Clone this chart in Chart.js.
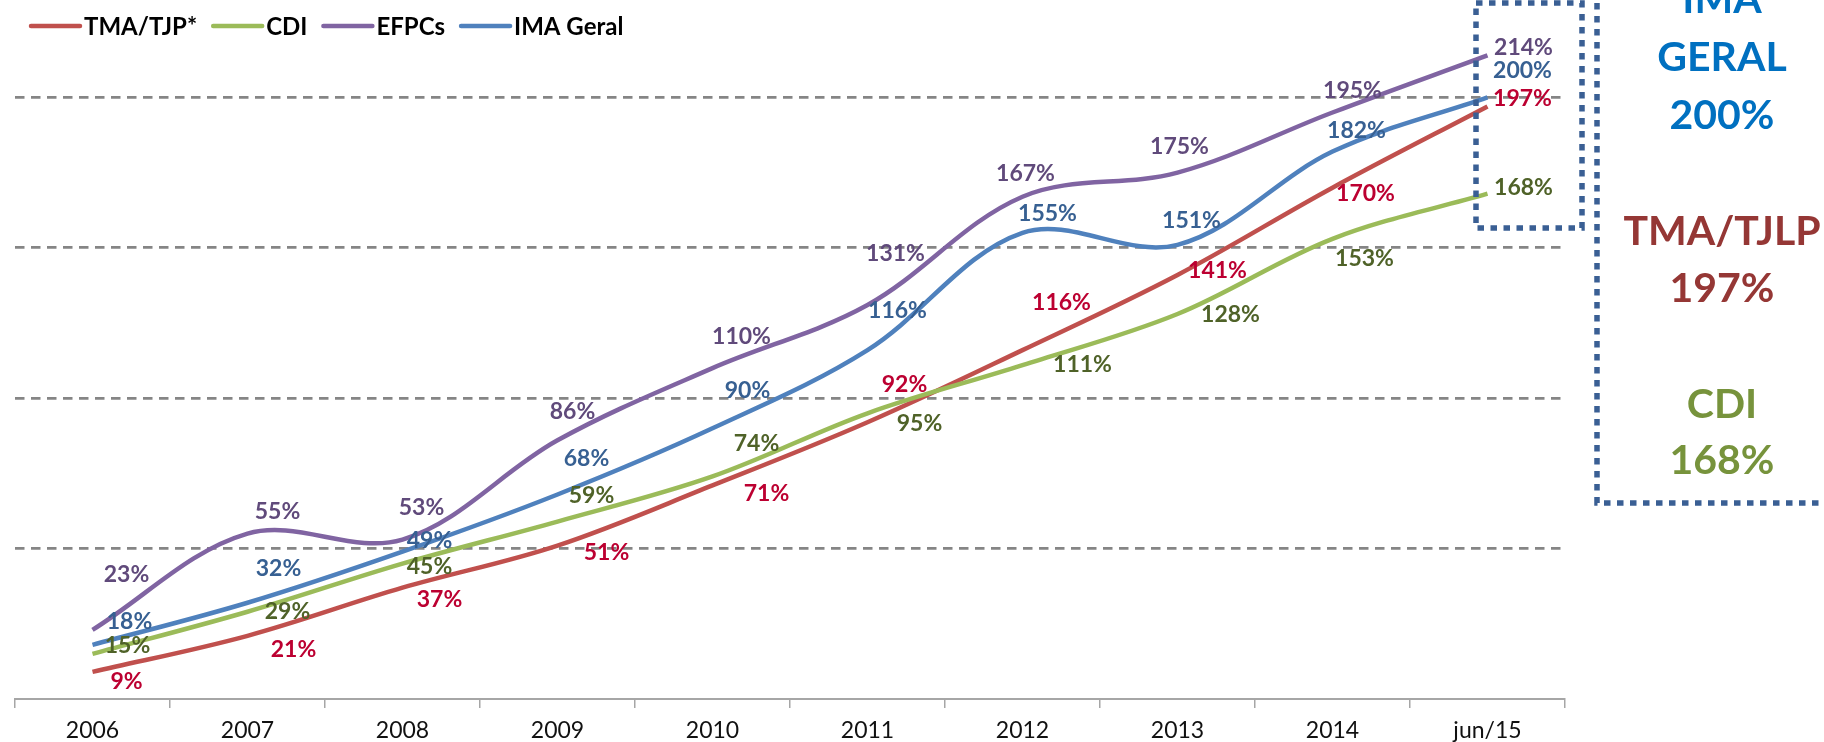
<!DOCTYPE html>
<html>
<head>
<meta charset="utf-8">
<script src="https://cdn.jsdelivr.net/npm/chart.js@4.4.1/dist/chart.umd.min.js"></script>
<style>
  html, body { margin: 0; padding: 0; background: #fff; }
  #wrap { width: 1824px; height: 742px; position: relative; }
</style>
</head>
<body>
<div id="wrap"><canvas id="retornos"></canvas></div>
<script>
'use strict';

/* ---- data ---- */
const categories = ['2006', '2007', '2008', '2009', '2010', '2011', '2012', '2013', '2014', 'jun/15'];
const tmaValues  = [9, 21, 37, 51, 71, 92, 116, 141, 170, 197];
const cdiValues  = [15, 29, 45, 59, 74, 95, 111, 128, 153, 168];
const efpcValues = [23, 55, 53, 86, 110, 131, 167, 175, 195, 214];
const imaValues  = [18, 32, 49, 68, 90, 116, 155, 151, 182, 200];
const yTickStep = 50;
const yMax = 232.4;

/* ---- label placement (px offset from each point to label centre) ---- */
const labelOffsets = [
    [[34, 10], [46, 14], [37, 12], [49, 7], [54, 8], [37, -38], [39, -48], [40, -4], [33, 6], [35, -8]],
    [[35, -8], [40, 0], [27, 3], [34, -26], [44, -33], [52, 10], [60, -1], [53, 1], [32, 20], [36, -6]],
    [[34, -55], [30, -22], [19, -32], [15, -29], [29, -32], [28, -51], [3, -23], [2, -26], [20, -22], [36, -8]],
    [[37, -23], [31, -34], [27, -11], [29, -36], [35, -38], [30, -40], [25, -19], [14, -24], [24, -21], [35, -27]],
];

const FONT = 'Lato, "Open Sans", sans-serif';

/* ---- data labels ---- */
const pointLabels = {
    id: 'pointLabels',
    afterDatasetsDraw(chart) {
        const ctx = chart.ctx;
        ctx.save();
        ctx.font = `bold 23px ${FONT}`;
        ctx.textAlign = 'center';
        ctx.textBaseline = 'middle';
        chart.data.datasets.forEach((ds, di) => {
            const meta = chart.getDatasetMeta(di);
            ctx.fillStyle = ds.labelColor;
            meta.data.forEach((pt, i) => {
                const [dx, dy] = labelOffsets[di][i];
                ctx.fillText(ds.data[i] + '%', pt.x + dx, pt.y + dy);
            });
        });
        ctx.restore();
    },
};

/* ---- legend, dotted boxes and summary panel ---- */
const decorations = {
    id: 'decorations',
    afterDraw(chart) {
        const ctx = chart.ctx;
        ctx.save();

        // legend
        ctx.font = `bold 24px ${FONT}`;
        ctx.textBaseline = 'middle';
        ctx.textAlign = 'left';
        let x = 31;
        chart.data.datasets.forEach(ds => {
            ctx.strokeStyle = ds.borderColor;
            ctx.lineWidth = 4.5;
            ctx.lineCap = 'round';
            ctx.beginPath();
            ctx.moveTo(x, 26);
            ctx.lineTo(x + 49, 26);
            ctx.stroke();
            ctx.fillStyle = '#000';
            ctx.fillText(ds.label, x + 53, 27);
            x += 53 + ctx.measureText(ds.label).width + 16;
        });

        // dotted boxes
        ctx.strokeStyle = '#3A5F94';
        ctx.lineWidth = 5.5;
        ctx.lineCap = 'butt';
        ctx.setLineDash([6.5, 6.5]);
        ctx.strokeRect(1476, 3, 106, 225);
        ctx.beginPath();
        ctx.moveTo(1597, -10);
        ctx.lineTo(1597, 503);
        ctx.lineTo(1830, 503);
        ctx.stroke();
        ctx.setLineDash([]);

        // summary panel
        const last = arr => arr[arr.length - 1] + '%';
        const panel = [
            ['IMA', 13, '#0070C0'],
            ['GERAL', 71, '#0070C0'],
            [last(imaValues), 129, '#0070C0'],
            ['TMA/TJLP', 245, '#953735'],
            [last(tmaValues), 302, '#953735'],
            ['CDI', 418, '#77933C'],
            [last(cdiValues), 474, '#77933C'],
        ];
        ctx.font = `bold 41px ${FONT}`;
        ctx.textAlign = 'center';
        ctx.textBaseline = 'alphabetic';
        panel.forEach(([t, y, c]) => {
            ctx.fillStyle = c;
            ctx.fillText(t, 1722, y);
        });

        ctx.restore();
    },
};

function series(label, data, color, labelColor, order) {
    return {
        label, data, order,
        borderColor: color,
        backgroundColor: color,
        labelColor,
        borderWidth: 4.5,
        pointRadius: 0,
        pointHoverRadius: 0,
        tension: 0.35,
        fill: false,
    };
}

new Chart(document.getElementById('retornos'), {
    type: 'line',
    data: {
        labels: categories,
        datasets: [
            series('TMA/TJP*', tmaValues, '#C0504D', '#BC0031', 3),
            series('CDI', cdiValues, '#9BBB59', '#4F6228', 2),
            series('EFPCs', efpcValues, '#8064A2', '#604A7B', 1),
            series('IMA Geral', imaValues, '#4F81BD', '#376092', 0),
        ],
    },
    options: {
        responsive: true,
        maintainAspectRatio: false,
        animation: false,
        layout: { padding: { left: 15, right: 259, top: 0, bottom: 0 } },
        plugins: {
            legend: { display: false },
            tooltip: { enabled: false },
        },
        scales: {
            x: {
                offset: true,
                grid: {
                    offset: true,
                    drawOnChartArea: false,
                    drawTicks: true,
                    tickLength: 9,
                    color: '#A6A6A6',
                    lineWidth: 1.5,
                },
                border: { display: true, color: '#A6A6A6', width: 2 },
                ticks: {
                    color: '#111',
                    font: { family: FONT, size: 23 },
                    padding: 9,
                    maxRotation: 0,
                    autoSkip: false,
                },
                afterFit: s => { s.height = 43; },
            },
            y: {
                min: 0,
                max: yMax,
                ticks: { display: false, stepSize: yTickStep },
                border: { display: false, dash: [9.5, 6.5] },
                grid: {
                    drawTicks: false,
                    lineWidth: 2.7,
                    color: c => (c.tick.value > 0 && c.tick.value % yTickStep === 0) ? '#858585' : 'rgba(0,0,0,0)',
                },
                afterFit: s => { s.width = 0; },
            },
        },
    },
    plugins: [pointLabels, decorations],
});
</script>
</body>
</html>
